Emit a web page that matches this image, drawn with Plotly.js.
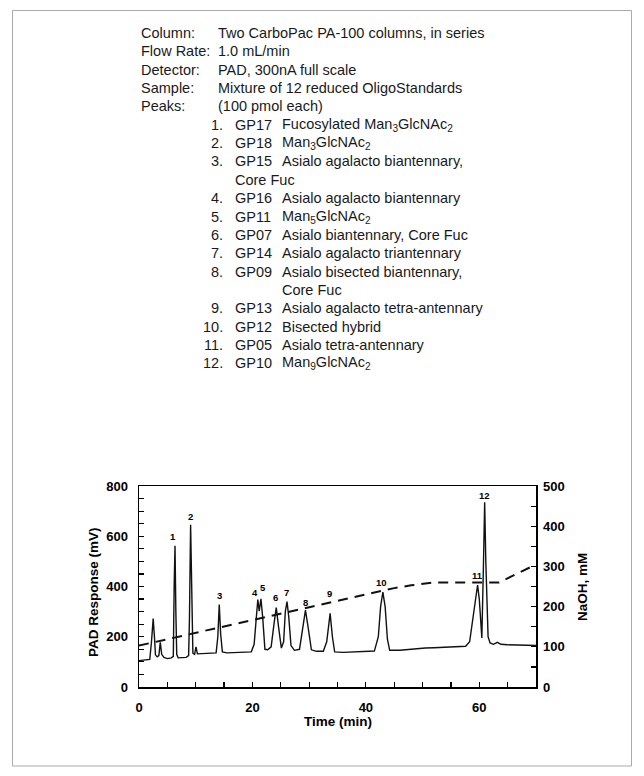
<!DOCTYPE html>
<html>
<head>
<meta charset="utf-8">
<script src="https://cdn.plot.ly/plotly-3.0.1.min.js"></script>
<style>
  html, body { margin: 0; padding: 0; background: #fff; }
  #chart { width: 644px; height: 776px; }
</style>
</head>
<body>
<div id="chart"></div>
<script>
// ---- Data ----
const paramLabels = ["Column:", "Flow Rate:", "Detector:", "Sample:", "Peaks:"];
const paramValues = ["Two CarboPac PA-100 columns, in series", "1.0 mL/min", "PAD, 300nA full scale",
                     "Mixture of 12 reduced OligoStandards", "(100 pmol each)"];
const peakNums  = ["1.", "2.", "3.", "4.", "5.", "6.", "7.", "8.", "9.", "10.", "11.", "12."];
const peakCodes = ["GP17", "GP18", "GP15", "GP16", "GP11", "GP07", "GP14", "GP09", "GP13", "GP12", "GP05", "GP10"];
const peakNames = ["Fucosylated Man<sub>3</sub>GlcNAc<sub>2</sub>", "Man<sub>3</sub>GlcNAc<sub>2</sub>",
                   "Asialo agalacto biantennary,", "Asialo agalacto biantennary",
                   "Man<sub>5</sub>GlcNAc<sub>2</sub>", "Asialo biantennary, Core Fuc",
                   "Asialo agalacto triantennary", "Asialo bisected biantennary,",
                   "Asialo agalacto tetra-antennary", "Bisected hybrid", "Asialo tetra-antennary",
                   "Man<sub>9</sub>GlcNAc<sub>2</sub>"];
const continuation = {"3.": "Core Fuc", "8.": "Core Fuc"};

// chromatogram: time (min) and PAD response (mV)
const timeMin = [0.0, 1.0, 1.9, 2.2, 2.5, 2.75, 2.9, 3.2, 3.5, 3.75, 4.0, 4.4, 5.0, 5.7, 6.05, 6.2, 6.35, 6.5, 6.65, 6.9,
  7.5, 8.3, 8.75, 8.9, 9.1, 9.3, 9.5, 9.8, 10.05, 10.3, 11.0, 12.5, 13.6, 13.9, 14.15, 14.4, 14.7, 15.5, 17.0, 18.5,
  19.8, 20.3, 20.7, 20.95, 21.2, 21.5, 21.8, 22.2, 22.7, 23.3, 23.8, 24.2, 24.6, 25.1, 25.5, 25.8, 26.1, 26.4, 26.8, 27.4,
  28.3, 28.9, 29.35, 29.8, 30.4, 31.3, 32.5, 33.1, 33.7, 34.1, 34.5, 36.0, 38.0, 40.0, 41.5, 42.2, 42.6, 43.0, 43.4, 43.8,
  44.2, 46.0, 48.0, 49.0, 49.5, 50.5, 52.0, 54.0, 56.0, 57.6, 58.3, 59.0, 59.7, 60.0, 60.3, 60.45, 60.7, 60.95, 61.15, 61.35,
  61.55, 61.9, 62.5, 63.2, 63.8, 65.0, 67.0, 70.0];
const padMv = [105, 107, 110, 180, 272, 190, 128, 120, 125, 178, 130, 118, 113, 116, 122, 400, 562, 300, 130, 116,
  116, 118, 125, 280, 646, 290, 135, 130, 160, 132, 133, 134, 136, 200, 328, 210, 140, 136, 137, 138,
  140, 170, 300, 348, 302, 351, 280, 150, 148, 160, 250, 316, 240, 155, 180, 300, 340, 280, 165, 146,
  150, 240, 306, 240, 148, 142, 142, 180, 293, 200, 140, 138, 140, 141, 143, 200, 320, 378, 320, 190,
  146, 146, 150, 154, 152, 155, 156, 158, 160, 162, 180, 300, 406, 350, 230, 195, 450, 735, 500, 340,
  200, 175, 170, 178, 170, 168, 166, 165];

// NaOH gradient (mM)
const gradTime = [0, 42, 45, 48, 52, 63.5, 69];
const gradNaOH = [103, 236, 246, 253, 260, 260, 298];

// peak labels
const peakLabels = ["1", "2", "3", "4", "5", "6", "7", "8", "9", "10", "11", "12"];
const peakLabelT = [6.05, 9.1, 14.2, 20.5, 21.9, 24.0, 26.0, 29.3, 33.6, 42.7, 59.6, 61.0];
const peakLabelMv = [601, 679, 364, 377, 395, 357, 377, 337, 372, 415, 444, 761];

// ---- Layout geometry (pixels) ----
const W = 644, H = 776;
const L = 139, R = 536, T = 486, B = 687;
const PW = R - L, PH = B - T;
const px2x = px => (px - L) / PW;
const py2y = py => (B - py) / PH;

const textFont = {family: "Liberation Sans, Arial, sans-serif", size: 14.5, color: "#1a1a1a"};
const tickFont = {family: "Liberation Sans, Arial, sans-serif", size: 13, color: "#000", weight: "bold"};
const titleFont = {family: "Liberation Sans, Arial, sans-serif", size: 13.5, color: "#000", weight: "bold"};

const annotations = [];
function addText(px, py, text, anchor) {
  annotations.push({xref: "paper", yref: "paper", x: px2x(px), y: py2y(py), text: text,
    showarrow: false, xanchor: anchor || "left", yanchor: "middle", font: textFont});
}
const lineY0 = 33, lineStep = 18.35;
let line = 0;
for (let i = 0; i < paramLabels.length; i++) {
  const y = lineY0 + lineStep * line;
  addText(139, y, paramLabels[i]);
  addText(216, y, paramValues[i]);
  line++;
}
for (let i = 0; i < peakNums.length; i++) {
  const y = lineY0 + lineStep * line;
  addText(225, y, peakNums[i], "right");
  addText(233, y, peakCodes[i]);
  addText(280, y, peakNames[i]);
  line++;
  if (continuation[peakNums[i]]) {
    const y2 = lineY0 + lineStep * line;
    addText(peakNums[i] === "3." ? 233 : 280, y2, continuation[peakNums[i]]);
    line++;
  }
}
// peak labels on chromatogram
for (let i = 0; i < peakLabels.length; i++) {
  annotations.push({xref: "x", yref: "y", x: peakLabelT[i], y: peakLabelMv[i], text: peakLabels[i],
    showarrow: false, xanchor: "center", yanchor: "middle",
    font: {family: "Liberation Sans, Arial, sans-serif", size: 9.5, color: "#000", weight: "bold"}});
}
// axis titles
annotations.push({xref: "paper", yref: "paper", x: px2x(93), y: py2y(592), text: "PAD Response (mV)",
  showarrow: false, textangle: -90, xanchor: "center", yanchor: "middle", font: titleFont});
annotations.push({xref: "paper", yref: "paper", x: px2x(582), y: py2y(587), text: "NaOH, mM",
  showarrow: false, textangle: -90, xanchor: "center", yanchor: "middle", font: titleFont});
annotations.push({xref: "paper", yref: "paper", x: px2x(338), y: py2y(721), text: "Time (min)",
  showarrow: false, xanchor: "center", yanchor: "middle", font: titleFont});

const traces = [
  {x: timeMin, y: padMv, type: "scatter", mode: "lines", line: {color: "#111", width: 1.4},
   hoverinfo: "skip", showlegend: false},
  {x: gradTime, y: gradNaOH, type: "scatter", mode: "lines", yaxis: "y2",
   line: {color: "#111", width: 2, dash: "10px,7px"}, hoverinfo: "skip", showlegend: false}
];

const axisCommon = {showgrid: false, zeroline: false, showline: true, linecolor: "#000", linewidth: 1.5,
  ticks: "inside", ticklen: 5, tickwidth: 1.2, tickcolor: "#000", tickfont: tickFont, fixedrange: true};

const layout = {
  width: W, height: H,
  margin: {l: L, r: W - R, t: T, b: H - B, pad: 0},
  paper_bgcolor: "#fff", plot_bgcolor: "#fff",
  showlegend: false,
  xaxis: Object.assign({}, axisCommon, {range: [0, 70], dtick: 20, tick0: 0, mirror: true,
    ticklabelstandoff: 8, minor: {dtick: 5, ticks: "inside", ticklen: 5, tickwidth: 1.2, tickcolor: "#000"}}),
  yaxis: Object.assign({}, axisCommon, {range: [0, 800], dtick: 200, tick0: 0, ticklabelstandoff: 7,
    minor: {dtick: 50, ticks: "inside", ticklen: 5, tickwidth: 1.2, tickcolor: "#000"}}),
  yaxis2: Object.assign({}, axisCommon, {range: [0, 500], dtick: 100, tick0: 0, overlaying: "y", side: "right",
    ticklabelstandoff: 3, minor: {dtick: 50, ticks: "inside", ticklen: 5, tickwidth: 1.2, tickcolor: "#000"}}),
  annotations: annotations,
  shapes: [{type: "rect", xref: "paper", yref: "paper",
    x0: px2x(12.5), x1: px2x(631.5), y0: py2y(766), y1: py2y(10.5),
    line: {color: "#aaa", width: 1}, fillcolor: "rgba(0,0,0,0)", layer: "below"}]
};

Plotly.newPlot("chart", traces, layout, {displayModeBar: false, staticPlot: true});
</script>
</body>
</html>
